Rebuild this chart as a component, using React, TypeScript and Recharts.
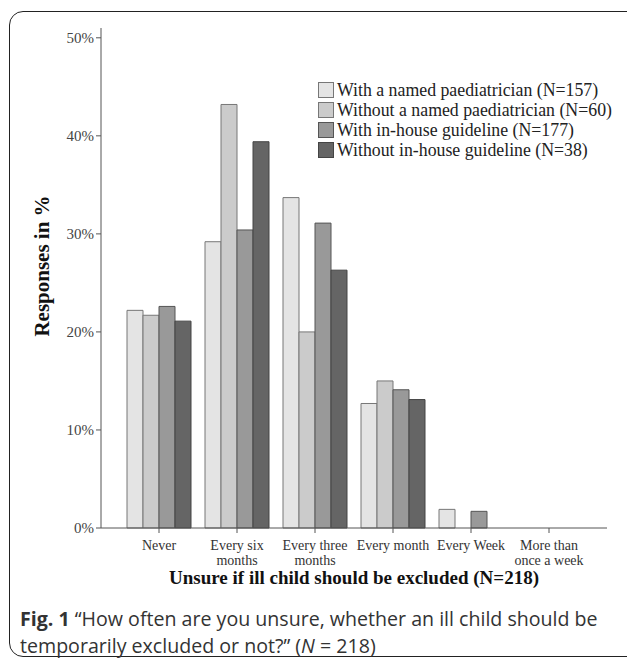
import { Bar, BarChart, XAxis, YAxis } from "recharts";

const categories = [
  "Never",
  "Every six\nmonths",
  "Every three\nmonths",
  "Every month",
  "Every Week",
  "More than\nonce a week",
];
const withPaediatrician = [22.2, 29.2, 33.7, 12.7, 1.9, 0];
const withoutPaediatrician = [21.7, 43.2, 20.0, 15.0, 0, 0];
const withGuideline = [22.6, 30.4, 31.1, 14.1, 1.7, 0];
const withoutGuideline = [21.1, 39.4, 26.3, 13.1, 0, 0];
const yTicks = [0, 10, 20, 30, 40, 50];

const seriesNames = [
  "With a named paediatrician (N=157)",
  "Without a named paediatrician (N=60)",
  "With in-house guideline (N=177)",
  "Without in-house guideline (N=38)",
];
const seriesKeys = ["a", "b", "c", "d"];
const fills = ["#e4e4e4", "#cbcbcb", "#999999", "#656565"];
const strokes = ["#777", "#777", "#555", "#444"];

const data = categories.map((name, i) => ({
  name,
  a: withPaediatrician[i],
  b: withoutPaediatrician[i],
  c: withGuideline[i],
  d: withoutGuideline[i],
}));

const SERIF = "'Liberation Serif', 'Times New Roman', serif";
const SANS = "'Open Sans', 'Noto Sans', sans-serif";

function XTick({ x, y, payload }: any) {
  const lines = String(payload.value).split("\n");
  return (
    <text x={x} y={y} textAnchor="middle" fill="#333" fontSize={14} fontFamily={SERIF}>
      {lines.map((l, i) => (
        <tspan key={i} x={x} dy={15}>
          {l}
        </tspan>
      ))}
    </text>
  );
}

function YTitle({ viewBox }: any) {
  const cx = 42;
  const cy = viewBox.y + viewBox.height / 2 - 12;
  return (
    <text
      x={cx}
      y={cy}
      transform={`rotate(-90 ${cx} ${cy})`}
      textAnchor="middle"
      dominantBaseline="central"
      fill="#111"
      fontSize={21}
      fontWeight="bold"
      fontFamily={SERIF}
    >
      Responses in %
    </text>
  );
}

// legend drawn outside the chart so it doesn't eat plot height
function LegendBox() {
  return (
    <div
      style={{
        position: "absolute",
        left: 318,
        top: 80,
        fontFamily: SERIF,
        fontSize: 17.8,
        color: "#222",
      }}
    >
      {seriesNames.map((n, i) => (
        <div key={n} style={{ display: "flex", alignItems: "center", height: 20 }}>
          <span
            style={{
              display: "inline-block",
              width: 14,
              height: 14,
              background: fills[i],
              border: `1px solid ${strokes[i]}`,
              marginRight: 3,
            }}
          />
          <span style={{ whiteSpace: "nowrap" }}>{n}</span>
        </div>
      ))}
    </div>
  );
}

export default function App() {
  return (
    <div
      style={{
        position: "fixed",
        left: 0,
        top: 0,
        width: 627,
        height: 659,
        overflow: "hidden",
        background: "#fff",
      }}
    >
      <div
        style={{
          position: "absolute",
          left: 9,
          top: 11,
          width: 650,
          height: 644,
          border: "1.5px solid #222",
          borderRadius: 14,
        }}
      />
      <div style={{ position: "absolute", left: 0, top: 0 }}>
        <BarChart
          width={627}
          height={600}
          data={data}
          margin={{ top: 28, right: 20, left: 0, bottom: 0 }}
          barGap={0}
          barCategoryGap={7}
        >
          <XAxis
            dataKey="name"
            height={72}
            padding={{ left: 19, right: 19 }}
            tickSize={5}
            tick={<XTick />}
            interval={0}
            stroke="#555"
            label={{
              value: "Unsure if ill child should be excluded (N=218)",
              position: "insideBottom",
              offset: 16,
              fill: "#111",
              fontSize: 19,
              fontWeight: "bold",
              fontFamily: SERIF,
            }}
          />
          <YAxis
            width={101}
            domain={[0, 51]}
            ticks={yTicks}
            tickFormatter={(v) => `${v}%`}
            tickSize={5}
            stroke="#555"
            tick={{ fill: "#444", fontSize: 15, fontFamily: SERIF }}
            label={<YTitle />}
          />
          {seriesKeys.map((k, i) => (
            <Bar
              key={k}
              dataKey={k}
              name={seriesNames[i]}
              fill={fills[i]}
              stroke={strokes[i]}
              strokeWidth={1}
              isAnimationActive={false}
            />
          ))}
        </BarChart>
      </div>
      <LegendBox />
      <div
        style={{
          position: "absolute",
          left: 20,
          top: 605,
          width: 610,
          fontFamily: SANS,
          fontSize: 19.6,
          lineHeight: "27px",
          color: "#333",
          whiteSpace: "nowrap",
        }}
      >
        <b>Fig. 1</b> “How often are you unsure, whether an ill child should be
        <br />
        temporarily excluded or not?” (<i>N</i> = 218)
      </div>
    </div>
  );
}
